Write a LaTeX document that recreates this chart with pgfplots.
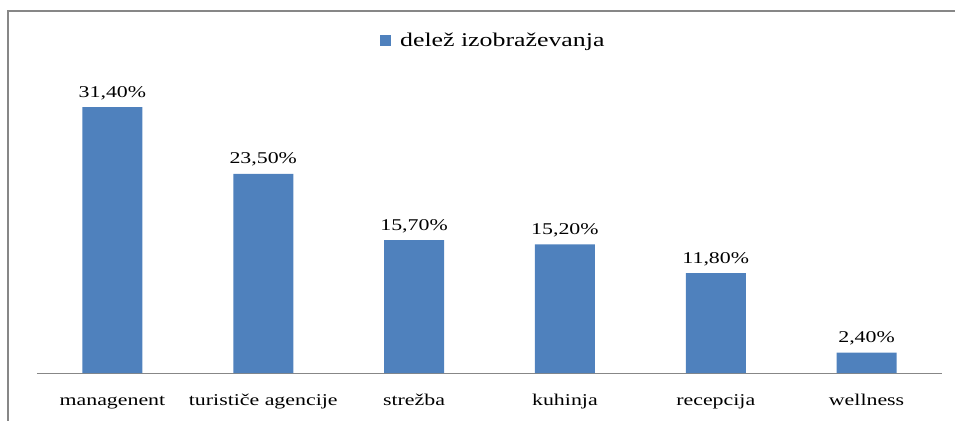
\documentclass[border=0pt]{standalone}
\usepackage{pgfplots}
\pgfplotsset{compat=1.18}
\usepackage{fontspec}
\setmainfont{Liberation Serif}[FakeStretch=1.33]
\definecolor{barblue}{HTML}{4F81BD}
\definecolor{framegray}{HTML}{878787}
\begin{document}
\begin{tikzpicture}
\useasboundingbox (-37bp,-48bp) rectangle (918bp,373bp);
\draw[framegray, line width=1.5bp] (-29bp,-48bp) -- (-29bp,362bp) -- (918bp,362bp);
\begin{axis}[
  at={(0,0)}, anchor=south west,
  scale only axis, width=905bp, height=313.4bp,
  xmin=-0.5, xmax=5.5, ymin=0, ymax=37,
  axis x line*=bottom, axis y line=none,
  x axis line style={framegray, line width=0.8bp, -},
  xtick=data,
  xticklabels={managenent, turističe agencije, strežba, kuhinja, recepcija, wellness},
  major tick length=0pt,
  xticklabel style={anchor=base, yshift=-32bp, font=\fontsize{16.5}{18}\selectfont},
  ytick=\empty,
  /pgf/number format/assume math mode=true,
  legend style={at={(axis description cs:0.504,1.0625)}, anchor=center, draw=none, fill=none,
    font=\fontsize{19.5}{22}\selectfont, inner sep=0pt},
  clip=false,
]
\addlegendimage{legend image code/.code={\fill[barblue] (0bp,-5bp) rectangle (10bp,5bp); \path (18bp,0bp);}}
\addlegendentry{delež izobraževanja}
\addplot[ybar, bar width=60bp, fill=barblue, draw=none, forget plot,
  nodes near coords={\pgfmathprintnumber[fixed,fixed zerofill,precision=2,use comma]{\pgfplotspointmeta}\%},
  every node near coord/.append style={anchor=base, yshift=10bp, text=black, font=\fontsize{16.5}{18}\selectfont}]
  coordinates {(0,31.4) (1,23.5) (2,15.7) (3,15.2) (4,11.8) (5,2.4)};
\end{axis}
\end{tikzpicture}
\end{document}
